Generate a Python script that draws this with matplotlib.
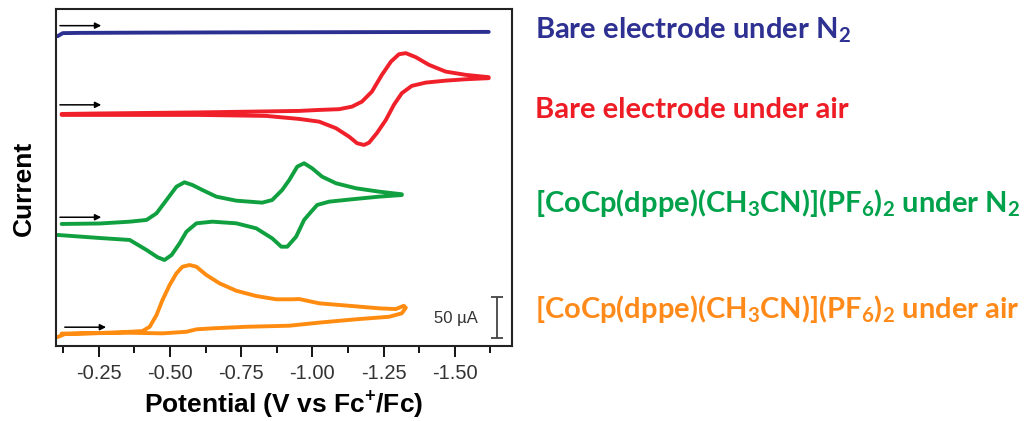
import matplotlib
matplotlib.use("Agg")
import matplotlib.pyplot as plt

plt.rcParams['font.family'] = ['Liberation Sans', 'DejaVu Sans']
plt.rcParams['mathtext.fontset'] = 'custom'
plt.rcParams['mathtext.rm'] = 'Lato'
plt.rcParams['mathtext.bf'] = 'Lato:bold'

# potential (V vs Fc+/Fc) and current (uA, stacked offsets)
blue_v = [-0.106, -0.124, -0.184, -0.40, -0.70, -1.00, -1.30, -1.619]
blue_i = [377.7, 381.4, 381.7, 382.0, 382.3, 382.5, 382.7, 382.9]

red_v = [-0.120, -0.254, -0.604, -0.954, -1.024, -1.094, -1.139, -1.174, -1.209,
         -1.244, -1.276, -1.304, -1.328, -1.363, -1.409, -1.468, -1.539, -1.619,
         -1.619, -1.539, -1.468, -1.398, -1.349, -1.314, -1.286, -1.258, -1.227,
         -1.199, -1.181, -1.157, -1.129, -1.083, -1.024, -0.954, -0.838, -0.604, -0.120]
red_i = [282.9, 283.5, 284.8, 286.6, 287.8, 288.7, 291.8, 297.9, 310.1,
         330.5, 346.7, 355.7, 357.0, 352.1, 342.8, 334.5, 330.5, 327.7,
         326.5, 325.2, 323.5, 321.1, 317.1, 308.2, 293.9, 275.6, 259.8,
         247.9, 245.1, 247.2, 255.2, 265.5, 273.5, 276.8, 280.5, 281.7, 281.7]

green_v = [-0.120, -0.254, -0.359, -0.418, -0.453, -0.488, -0.523, -0.551, -0.579,
           -0.614, -0.663, -0.733, -0.824, -0.859, -0.894, -0.919, -0.947, -0.971,
           -0.999, -1.034, -1.083, -1.153, -1.234, -1.314,
           -1.314, -1.234, -1.139, -1.059, -1.017, -0.996, -0.971, -0.943, -0.912,
           -0.891, -0.859, -0.803, -0.733, -0.649, -0.593, -0.558, -0.534, -0.506,
           -0.481, -0.457, -0.418, -0.359, -0.254, -0.106]
green_i = [148.8, 149.4, 151.6, 153.7, 161.8, 178.0, 194.3, 199.6, 196.3,
           190.2, 182.1, 177.2, 174.8, 178.0, 190.2, 202.4, 218.7, 222.8,
           216.7, 206.5, 198.4, 192.3, 188.2, 185.0,
           184.1, 182.1, 178.9, 176.0, 172.0, 163.8, 153.7, 133.3, 121.1,
           121.1, 131.3, 143.5, 149.6, 151.6, 149.6, 139.4, 125.2, 111.0,
           104.9, 108.2, 117.1, 129.3, 131.7, 135.4]

orange_v = [-0.106, -0.131, -0.254, -0.359, -0.404, -0.429, -0.453, -0.474, -0.499,
            -0.523, -0.544, -0.569, -0.593, -0.628, -0.674, -0.733, -0.803, -0.873,
            -0.929, -0.954, -1.024, -1.129, -1.234, -1.293, -1.321, -1.328,
            -1.314, -1.269, -1.153, -1.034, -0.919, -0.768, -0.649, -0.593, -0.558,
            -0.474, -0.359, -0.120]
orange_i = [11.0, 14.6, 15.9, 17.4, 18.3, 23.5, 37.8, 56.1, 74.4,
            88.7, 96.7, 98.8, 96.7, 86.6, 76.5, 67.4, 61.0, 57.0,
            57.0, 57.3, 52.1, 49.1, 46.0, 45.1, 49.1, 46.7,
            39.9, 35.7, 32.6, 28.9, 24.8, 23.5, 21.6, 20.4, 17.4,
            15.5, 16.2, 15.2]

labels = ["Bare electrode under N$_{\\mathbf{2}}$",
          "Bare electrode under air",
          "[CoCp(dppe)(CH$_{\\mathbf{3}}$CN)](PF$_{\\mathbf{6}}$)$_{\\mathbf{2}}$ under N$_{\\mathbf{2}}$",
          "[CoCp(dppe)(CH$_{\\mathbf{3}}$CN)](PF$_{\\mathbf{6}}$)$_{\\mathbf{2}}$ under air"]
line_colors = ['#2b2f8f', '#f0202a', '#10a040', '#ff8c10']
text_colors = ['#2e3192', '#ee1c25', '#00a14b', '#ff8a1a']

# start of each scan (V, uA) for the direction arrows
arrow_start = [(-0.114, 390.5), (-0.114, 294), (-0.114, 157), (-0.131, 23)]

xticks = [-0.25, -0.50, -0.75, -1.00, -1.25, -1.50]

fig = plt.figure(figsize=(10.36, 4.21), dpi=100)
ax = fig.add_axes([0.054, 0.178, 0.440, 0.801])

curves = [(blue_v, blue_i), (red_v, red_i), (green_v, green_i), (orange_v, orange_i)]
for (v, i), c in zip(curves, line_colors):
    ax.plot(v, i, color=c, lw=2.8, solid_joinstyle='round', solid_capstyle='round')

for x0, y0 in arrow_start:
    ax.annotate('', xy=(x0 - 0.145, y0), xytext=(x0, y0),
                arrowprops=dict(arrowstyle='-|>', color='black', lw=1.1,
                                mutation_scale=9, shrinkA=0, shrinkB=0))

# 50 uA scale bar
ax.errorbar([-1.647], [35], yerr=[25], color='#444444', lw=1.3, capsize=4, capthick=1.3)
ax.text(-1.505, 34, '50 \u00b5A', ha='center', va='center', fontsize=12, color='#333333')

ax.set_xlim(-0.10, -1.70)
ax.set_ylim(0, 411)
ax.set_xticks(xticks)
ax.set_xticklabels(['%.2f' % t for t in xticks])
ax.set_xticks([-0.125, -0.375, -0.625, -0.875, -1.125, -1.375, -1.625], minor=True)
ax.set_yticks([])
ax.tick_params(axis='x', which='major', direction='out', length=8, width=1.3,
               labelsize=14.5, labelcolor='#333333', pad=5)
ax.tick_params(axis='x', which='minor', direction='out', length=5, width=1.3)
for s in ax.spines.values():
    s.set_linewidth(1.5)
    s.set_color('#222222')

ax.set_xlabel('Potential (V vs Fc$^{\\mathbf{+}}$/Fc)', fontsize=19, fontweight='bold', labelpad=4)
ax.set_ylabel('Current', fontsize=19, fontweight='bold')
ax.yaxis.set_label_coords(-0.044, 0.469)

baselines = [38, 118, 212, 318]
for lab, col, yb in zip(labels, text_colors, baselines):
    fig.text(535 / 1036, 1 - yb / 421, lab, color=col, fontsize=21, fontweight='bold',
             family=['Lato', 'DejaVu Sans'], va='baseline', ha='left')

fig.savefig('out.png', dpi=100)
